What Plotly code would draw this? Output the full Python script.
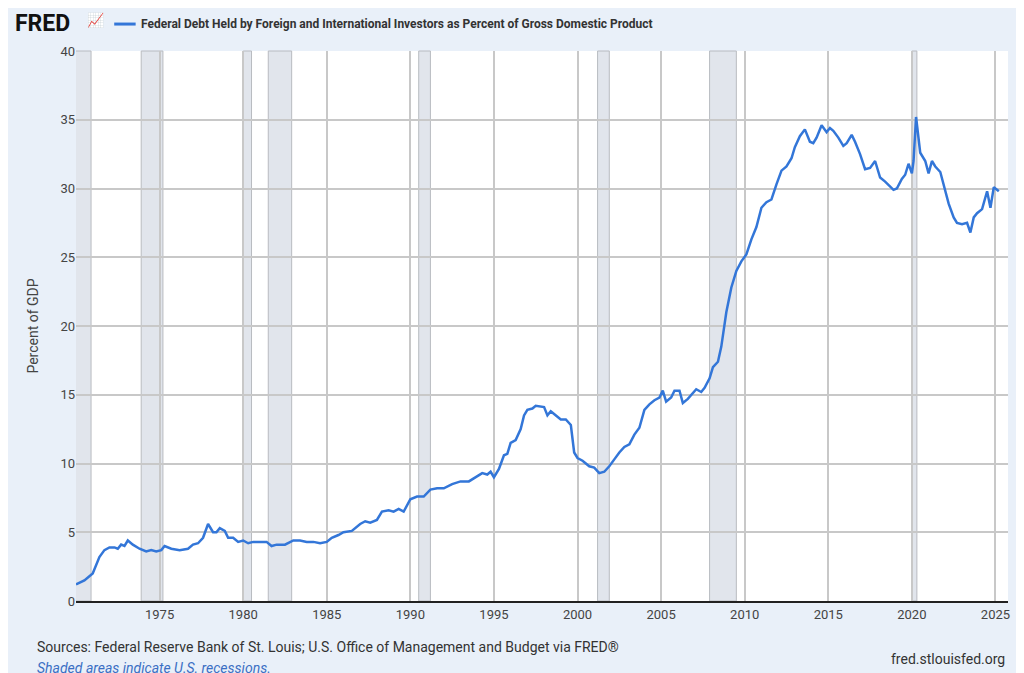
import plotly.graph_objects as go

# Dates (decimal years) and values, 10 per row
years = [1970.0, 1970.5, 1971.0, 1971.4, 1971.7, 1972.0, 1972.3, 1972.5, 1972.7, 1972.9,
         1973.1, 1973.4, 1973.8, 1974.2, 1974.5, 1974.8, 1975.1, 1975.3, 1975.7, 1976.2,
         1976.7, 1977.0, 1977.3, 1977.6, 1977.9, 1978.2, 1978.4, 1978.6, 1978.9, 1979.1,
         1979.4, 1979.7, 1980.0, 1980.3, 1980.6, 1981.0, 1981.4, 1981.7, 1982.0, 1982.5,
         1983.0, 1983.4, 1983.8, 1984.2, 1984.6, 1985.0, 1985.3, 1985.7, 1986.0, 1986.5,
         1987.0, 1987.3, 1987.6, 1988.0, 1988.3, 1988.7, 1989.0, 1989.3, 1989.6, 1990.0,
         1990.4, 1990.8, 1991.2, 1991.6, 1992.0, 1992.5, 1993.0, 1993.5, 1994.0, 1994.3,
         1994.6, 1994.8, 1995.0, 1995.3, 1995.6, 1995.8, 1996.0, 1996.3, 1996.6, 1996.8,
         1997.0, 1997.3, 1997.5, 1998.0, 1998.2, 1998.4, 1998.8, 1999.0, 1999.3, 1999.6,
         1999.8, 2000.0, 2000.3, 2000.7, 2001.0, 2001.3, 2001.6, 2001.9, 2002.2, 2002.5,
         2002.8, 2003.1, 2003.4, 2003.7, 2004.0, 2004.3, 2004.6, 2004.9, 2005.1, 2005.3,
         2005.6, 2005.8, 2006.1, 2006.3, 2006.6, 2006.9, 2007.1, 2007.4, 2007.6, 2007.9,
         2008.1, 2008.4, 2008.6, 2008.9, 2009.2, 2009.5, 2009.8, 2010.1, 2010.4, 2010.7,
         2011.0, 2011.3, 2011.6, 2011.9, 2012.2, 2012.5, 2012.8, 2013.0, 2013.3, 2013.6,
         2013.9, 2014.1, 2014.3, 2014.6, 2014.9, 2015.1, 2015.3, 2015.6, 2015.9, 2016.1,
         2016.4, 2016.6, 2016.9, 2017.2, 2017.5, 2017.8, 2018.1, 2018.4, 2018.7, 2018.9,
         2019.1, 2019.4, 2019.6, 2019.8, 2020.0, 2020.1, 2020.25, 2020.5, 2020.8, 2021.0,
         2021.2, 2021.4, 2021.7, 2021.9, 2022.2, 2022.5, 2022.7, 2023.0, 2023.3, 2023.5,
         2023.7, 2023.9, 2024.2, 2024.5, 2024.7, 2024.9, 2025.2]
values = [1.2, 1.5, 2.0, 3.2, 3.7, 3.9, 3.9, 3.8, 4.1, 4.0,
          4.4, 4.1, 3.8, 3.6, 3.7, 3.6, 3.7, 4.0, 3.8, 3.7,
          3.8, 4.1, 4.2, 4.6, 5.6, 5.0, 5.0, 5.3, 5.1, 4.6,
          4.6, 4.3, 4.4, 4.2, 4.3, 4.3, 4.3, 4.0, 4.1, 4.1,
          4.4, 4.4, 4.3, 4.3, 4.2, 4.3, 4.6, 4.8, 5.0, 5.1,
          5.6, 5.8, 5.7, 5.9, 6.5, 6.6, 6.5, 6.7, 6.5, 7.4,
          7.6, 7.6, 8.1, 8.2, 8.2, 8.5, 8.7, 8.7, 9.1, 9.3,
          9.2, 9.4, 9.0, 9.6, 10.6, 10.7, 11.5, 11.7, 12.5, 13.5,
          13.9, 14.0, 14.2, 14.1, 13.5, 13.8, 13.4, 13.2, 13.2, 12.8,
          10.8, 10.4, 10.2, 9.8, 9.7, 9.3, 9.4, 9.8, 10.3, 10.8,
          11.2, 11.4, 12.1, 12.6, 13.9, 14.3, 14.6, 14.8, 15.3, 14.5,
          14.8, 15.3, 15.3, 14.4, 14.7, 15.1, 15.4, 15.2, 15.5, 16.2,
          17.0, 17.4, 18.5, 21.0, 22.8, 24.0, 24.7, 25.2, 26.3, 27.2,
          28.6, 29.0, 29.2, 30.3, 31.3, 31.6, 32.2, 33.0, 33.8, 34.3,
          33.4, 33.3, 33.7, 34.6, 34.1, 34.4, 34.2, 33.7, 33.1, 33.3,
          33.9, 33.4, 32.5, 31.4, 31.5, 32.0, 30.8, 30.5, 30.1, 29.9,
          30.0, 30.7, 31.0, 31.8, 31.1, 32.0, 35.2, 32.6, 32.0, 31.1,
          32.0, 31.6, 31.2, 30.2, 28.9, 27.9, 27.5, 27.4, 27.5, 26.8,
          27.9, 28.2, 28.5, 29.8, 28.6, 30.1, 29.8]

recessions = [(1969.9, 1970.9), (1973.9, 1975.2), (1980.0, 1980.5), (1981.5, 1982.9),
              (1990.5, 1991.2), (2001.2, 2001.9), (2007.9, 2009.5), (2020.0, 2020.3)]

fig = go.Figure(go.Scatter(x=years, y=values, mode="lines",
                           line=dict(color="#3376d8", width=2.5), hoverinfo="x+y"))

for a, b in recessions:
    fig.add_vrect(x0=a, x1=b, fillcolor="#e1e5ec", line=dict(color="#b8bbc0", width=1),
                  layer="below")

fig.update_layout(
    autosize=True,
    paper_bgcolor="#e9f0f9", plot_bgcolor="white",
    margin=dict(l=68, r=6, t=43, b=80),
    showlegend=False,
    font=dict(family="Roboto", color="#444"),
    xaxis=dict(range=[1970.0, 2025.75], tickvals=list(range(1975, 2030, 5)),
               showgrid=True, gridcolor="#c8c8c8", gridwidth=1.5, ticks="",
               tickfont=dict(size=13, color="#444"), showline=True, linecolor="#222",
               linewidth=2, zeroline=False),
    yaxis=dict(range=[0, 40], dtick=5, showgrid=True, gridcolor="#c8c8c8", gridwidth=1.5,
               tickfont=dict(size=13, color="#444"), zeroline=False,
               title=dict(text="Percent of GDP", font=dict(size=14, color="#444"), standoff=18)),
)

fig.add_annotation(x=-0.068, y=1.078, xref="paper", yref="paper", xanchor="left", yanchor="top",
                   text="<b>FRED</b>", showarrow=False,
                   font=dict(family="Roboto", size=23, color="#111"))
fig.add_annotation(x=0.01, y=1.075, xref="paper", yref="paper", xanchor="left", yanchor="top",
                   text="📈", showarrow=False, font=dict(size=14))
fig.add_shape(type="line", xref="paper", yref="paper", x0=0.041, x1=0.064, y0=1.049, y1=1.049,
              line=dict(color="#3376d8", width=3))
fig.add_annotation(x=0.068, y=1.049, xref="paper", yref="paper", xanchor="left", yanchor="middle",
                   text="<b>Federal Debt Held by Foreign and International Investors as Percent of Gross Domestic Product</b>",
                   showarrow=False, font=dict(family="Roboto", size=12, color="#333"))
fig.add_annotation(x=-0.044, y=-0.083, xref="paper", yref="paper", xanchor="left", yanchor="middle",
                   text="Sources: Federal Reserve Bank of St. Louis; U.S. Office of Management and Budget via FRED®",
                   showarrow=False, font=dict(family="Roboto", size=14, color="#333"))
fig.add_annotation(x=-0.044, y=-0.122, xref="paper", yref="paper", xanchor="left", yanchor="middle",
                   text="<i>Shaded areas indicate U.S. recessions.</i>",
                   showarrow=False, font=dict(family="Roboto", size=14, color="#3b6fc4"))
fig.add_annotation(x=0.999, y=-0.106, xref="paper", yref="paper", xanchor="right", yanchor="middle",
                   text="fred.stlouisfed.org", showarrow=False,
                   font=dict(family="Roboto", size=14, color="#333"))

fig.write_html("out.html", default_width="100%", default_height="100vh")
